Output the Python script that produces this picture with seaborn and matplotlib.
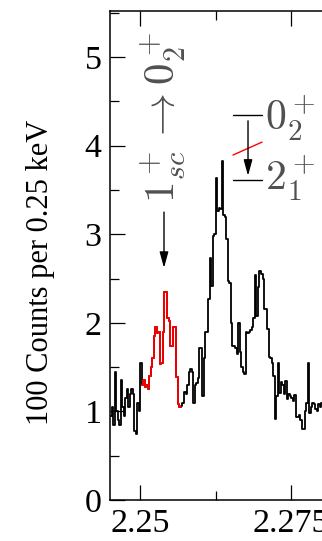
import numpy as np
import pandas as pd
import matplotlib
matplotlib.use("Agg")
import matplotlib.pyplot as plt
import seaborn as sns
from matplotlib.ticker import MultipleLocator, FixedLocator

# ---- data (energy in MeV, counts in units of 100 per 0.25 keV bin) ----
bin_start = 2.245
bin_width = 0.00025

counts_left = [0.95, 1.05, 0.85, 1.45, 1.0, 0.9, 0.85, 1.35, 1.05, 0.95,
               1.15, 1.25, 1.05, 1.2, 1.25, 1.2, 0.78, 0.75, 1.1, 1.0, 1.55]
counts_red = [1.3, 1.35, 1.28, 1.3, 1.25, 1.4, 1.5, 1.6, 1.85, 1.95,
              1.88, 1.9, 1.53, 1.55, 1.9, 2.35, 2.35, 2.05, 2.02, 1.74,
              1.74, 1.95, 1.95, 1.39, 1.08, 1.05]
counts_right = [1.06, 1.1, 1.22, 1.2, 1.3, 1.44, 1.48, 1.45, 1.1, 1.3,
                1.32, 1.38, 1.72, 1.72, 1.17, 1.6, 1.9, 1.9, 2.27, 2.73,
                2.42, 2.98, 3.0, 3.64, 3.26, 3.3, 3.28, 3.83, 3.22, 3.2,
                2.95, 2.47, 2.45, 2.0, 1.74, 1.74, 1.72, 1.65, 2.0, 1.67,
                1.5, 1.45, 1.42, 1.9, 1.88, 1.9, 1.92, 1.95, 2.05, 2.54,
                2.08, 2.4, 2.58, 2.55, 2.5, 2.16, 2.16, 1.93, 1.61, 1.6,
                1.55, 1.4, 0.91, 1.17, 1.55, 1.21, 1.33, 1.3, 1.2, 1.34,
                1.14, 1.2, 1.17, 1.15, 1.12, 1.19, 0.94, 0.94, 0.96, 0.9,
                0.8, 0.8, 1.0, 1.1, 1.55, 0.98, 1.05, 1.1, 1.08, 1.03,
                1.0, 1.08, 1.05, 1.1]

xtick_values = [2.25, 2.275]
xtick_labels = ["2.25", "2.275"]
ytick_values = [0, 1, 2, 3, 4, 5]
ylabel = "100 Counts per 0.25 keV"
transition_label = r"$1^+_{sc}\rightarrow 0^+_2$"
level_labels = [r"$0^+_2$", r"$2^+_1$"]

# ---- build table ----
counts = counts_left + counts_red + counts_right
n = len(counts)
edges = bin_start + bin_width * np.arange(n + 1)
df = pd.DataFrame({"energy": edges, "counts": counts + [counts[-1]]})
i0 = len(counts_left)
i1 = i0 + len(counts_red)
df_red = pd.DataFrame({"energy": edges[i0:i1 + 1],
                       "counts": counts_red + [counts_red[-1]]})

# ---- style ----
sns.set_theme(style="ticks")
plt.rcParams["font.family"] = ["Liberation Serif", "DejaVu Serif"]
plt.rcParams["mathtext.fontset"] = "cm"

fig = plt.figure(figsize=(3.22, 5.41), dpi=100)
ax = fig.add_axes([110 / 322, 41 / 541, 241.6 / 322, 489 / 541])

sns.lineplot(data=df, x="energy", y="counts", drawstyle="steps-post",
             estimator=None, sort=False, color="black", lw=1.3, ax=ax)
sns.lineplot(data=df_red, x="energy", y="counts", drawstyle="steps-post",
             estimator=None, sort=False, color="red", lw=1.3, ax=ax)

ax.set_xlim(2.245, 2.285)
ax.set_ylim(0, 5.52)
ax.xaxis.set_major_locator(FixedLocator(xtick_values))
ax.set_xticklabels(xtick_labels)
ax.xaxis.set_minor_locator(MultipleLocator(0.0125))
ax.yaxis.set_major_locator(FixedLocator(ytick_values))
ax.yaxis.set_minor_locator(MultipleLocator(0.5))
ax.tick_params(which="both", direction="in", top=True, right=True,
               width=0.9, colors="black", labelsize=24.5)
ax.tick_params(which="major", length=10.8, pad=6)
ax.tick_params(which="minor", length=6.2)
for s in ax.spines.values():
    s.set_linewidth(1.1)
    s.set_color("black")
ax.set_xlabel("")
ax.set_ylabel(ylabel, fontsize=22, color="black")
ax.yaxis.set_label_coords(-0.228, 0.466)

# ---- annotations ----
txt_color = "#505050"
ax.text(2.25576, 3.35, transition_label, rotation=90, rotation_mode="anchor",
        ha="left", va="baseline", fontsize=31, color=txt_color)
ax.annotate("", xy=(2.25394, 2.62), xytext=(2.25394, 3.25),
            arrowprops=dict(arrowstyle="-|>,head_length=0.8,head_width=0.22",
                            mutation_scale=12, color="black", lw=1.0,
                            shrinkA=0, shrinkB=0))
# level scheme
for yl in (4.345, 3.61):
    ax.plot([2.26536, 2.27017], [yl, yl], color="black", lw=1.0)
ax.annotate("", xy=(2.26785, 3.66), xytext=(2.26785, 4.28),
            arrowprops=dict(arrowstyle="-|>,head_length=0.8,head_width=0.22",
                            mutation_scale=12, color="black", lw=1.0,
                            shrinkA=0, shrinkB=0))
ax.plot([2.26536, 2.27017], [3.894, 4.04], color="red", lw=1.0)
ax.text(2.27066, 4.176, level_labels[0], ha="left", va="baseline",
        fontsize=30, color=txt_color)
ax.text(2.27066, 3.50, level_labels[1], ha="left", va="baseline",
        fontsize=30, color=txt_color)

fig.savefig("out.png", dpi=100)
